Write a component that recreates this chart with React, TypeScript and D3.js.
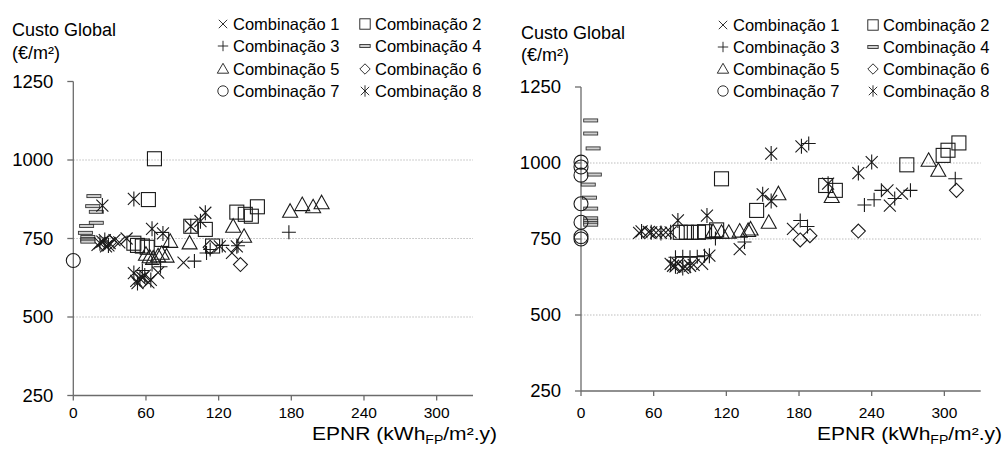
import React from "react";
import * as d3 from "d3";

type Pt = [number, number];

// ---------- Tick labels ----------
const xTicks = [0, 60, 120, 180, 240, 300];
const yTicks = [250, 500, 750, 1000, 1250];
const gridValues = [500, 750, 1000];
const seriesNames = [
  "Combinação 1", "Combinação 2", "Combinação 3", "Combinação 4",
  "Combinação 5", "Combinação 6", "Combinação 7", "Combinação 8",
];

// ---------- Left chart data (EPNR, Custo Global) ----------
const leftC1: Pt[] = [[20,730],[24,740],[27,725],[30,735],[34,745],[38,738],[44,750],[52,615],[57,625],[62,610],[70,641],[91,673],[121,725],[131,704]];
const leftC2: Pt[] = [[67,1004],[62,874],[97,789],[109,779],[135,834],[142,827],[147,821],[152,851],[73,747],[50,735],[53,728],[57,726],[61,722],[115,726]];
const leftC3: Pt[] = [[57,648],[65,667],[72,660],[100,678],[110,704],[113,715],[123,728],[136,727],[178,770]];
const leftC4: Pt[] = [[17,885],[16,853],[19,835],[19,800],[11,790],[10,768],[12,755],[12,748],[12,744],[12,740]];
const leftC5: Pt[] = [[132,789],[141,757],[179,837],[189,858],[198,851],[205,864],[96,736],[80,741],[77,694],[60,700],[63,692],[66,688],[70,695],[73,703]];
const leftC6: Pt[] = [[138,667],[30,738],[113,722]];
const leftC7: Pt[] = [[0,680]];
const leftC8: Pt[] = [[24,855],[50,876],[65,781],[74,766],[97,789],[105,805],[109,832],[135,725],[22,735],[26,745],[29,728],[50,640],[55,622],[59,632],[64,618],[53,608]];

// ---------- Right chart data ----------
const rightC1: Pt[] = [[48,770],[56,773],[62,771],[70,772],[76,662],[80,668],[86,658],[93,665],[100,668],[131,717],[175,783],[255,860],[253,910],[265,899]];
const rightC2: Pt[] = [[82,772],[87,772],[91,772],[97,772],[102,774],[112,780],[116,948],[145,844],[202,926],[210,910],[269,994],[299,1025],[303,1042],[312,1066]];
const rightC3: Pt[] = [[78,690],[84,692],[90,690],[96,692],[102,695],[111,752],[135,740],[181,811],[187,791],[188,1064],[234,862],[242,879],[248,910],[259,883],[272,910],[309,948]];
const rightC4: Pt[] = [[8,1140],[8,1097],[10,1048],[11,962],[6,929],[7,886],[8,850],[8,818],[8,810],[8,803],[8,797]];
const rightC5: Pt[] = [[109,775],[116,772],[122,772],[131,776],[138,778],[140,783],[155,805],[163,899],[207,890],[287,1009],[295,976]];
const rightC6: Pt[] = [[181,747],[189,761],[229,776],[310,910]];
const rightC7: Pt[] = [[0,1003],[0,987],[0,960],[0,866],[0,805],[0,758],[0,750]];
const rightC8: Pt[] = [[50,775],[58,772],[66,770],[74,772],[80,811],[104,827],[74,668],[78,660],[84,655],[90,662],[106,695],[150,897],[157,875],[157,1031],[182,1055],[204,932],[229,967],[240,1003]];

const FONT = "'Liberation Sans', Arial, sans-serif";
const INK = "#1a1a1a";

type Kind = "x" | "square" | "plus" | "dash" | "triangle" | "diamond" | "circle" | "asterisk";
const kinds: Kind[] = ["x", "square", "plus", "dash", "triangle", "diamond", "circle", "asterisk"];

function Marker({ kind, s, sw = 1.1 }: { kind: Kind; s: number; sw?: number }) {
  switch (kind) {
    case "x":
      return <path d={`M${-s},${-s}L${s},${s}M${-s},${s}L${s},${-s}`} stroke={INK} strokeWidth={sw} fill="none" />;
    case "square":
      return <rect x={-s - 1} y={-s - 1} width={2 * s + 2} height={2 * s + 2} stroke={INK} strokeWidth={sw} fill="none" />;
    case "plus":
      return <path d={`M${-s - 1},0H${s + 1}M0,${-s - 1}V${s + 1}`} stroke={INK} strokeWidth={sw} fill="none" />;
    case "dash":
      return <rect x={-s - 1} y={-1.5} width={2 * s + 2} height={3} stroke="#333" strokeWidth={0.9} fill="#cfcfcf" />;
    case "triangle":
      return <path d={`M0,${-s - 1.5}L${s + 1.5},${s}L${-s - 1.5},${s}Z`} stroke={INK} strokeWidth={sw} fill="none" />;
    case "diamond":
      return <path d={`M0,${-s - 1}L${s + 1},0L0,${s + 1}L${-s - 1},0Z`} stroke={INK} strokeWidth={sw} fill="none" />;
    case "circle":
      return <circle r={s + 1} stroke={INK} strokeWidth={sw} fill="none" />;
    case "asterisk":
      return <path d={`M${-s},${-s}L${s},${s}M${-s},${s}L${s},${-s}M0,${-s - 1.5}V${s + 1.5}`} stroke={INK} strokeWidth={sw} fill="none" />;
  }
}

interface ChartProps {
  series: Pt[][];
  xRange: [number, number];
  yRange: [number, number];
  titleX: number;
  titleY: [number, number];
  xTitleLeft: number;
  legendCols: [number, number];
  legendRows: number[];
}

function Chart(p: ChartProps) {
  const x = d3.scaleLinear().domain([0, 330]).range(p.xRange);
  const y = d3.scaleLinear().domain([250, 1250]).range(p.yRange);
  const x0 = x(0);
  const axisColor = "#6b6b6b";
  return (
    <g fontFamily={FONT} fill="#000">
      {gridValues.map((v) => (
        <line key={v} x1={x0} x2={x(330)} y1={y(v)} y2={y(v)} stroke="#bdbdbd" strokeWidth={1} strokeDasharray="1.5,1.5" />
      ))}
      <line x1={x0} x2={x0} y1={y(250)} y2={y(1250)} stroke={axisColor} strokeWidth={1.3} />
      {yTicks.map((v) => (
        <g key={v}>
          <line x1={x0 - 6} x2={x0} y1={y(v)} y2={y(v)} stroke={axisColor} strokeWidth={1.3} />
          <text x={x0 - 20} y={y(v)} dy="0.35em" textAnchor="end" fontSize={18.5}>{v}</text>
        </g>
      ))}
      <line x1={x0} x2={x(330)} y1={y(250)} y2={y(250)} stroke={axisColor} strokeWidth={1.3} />
      {xTicks.map((v) => (
        <g key={v}>
          <line x1={x(v)} x2={x(v)} y1={y(250)} y2={y(250) + 5} stroke={axisColor} strokeWidth={1.3} />
          <text x={x(v)} y={418} textAnchor="middle" fontSize={15.5}>{v}</text>
        </g>
      ))}
      <text x={p.titleX} y={p.titleY[0]} fontSize={18}>Custo Global</text>
      <text x={p.titleX} y={p.titleY[1]} fontSize={18}>(€/m²)</text>
      <text x={p.xTitleLeft} y={440} fontSize={18} textLength={185} lengthAdjust="spacingAndGlyphs">
        EPNR (kWh<tspan fontSize={12} dy={4}>FP</tspan><tspan dy={-4}>/m².y)</tspan>
      </text>
      {p.series.map((pts, si) => (
        <g key={si}>
          {pts.map((d, i) => (
            <g key={i} transform={`translate(${x(d[0])},${y(d[1])})`}>
              <Marker kind={kinds[si]} s={6} />
            </g>
          ))}
        </g>
      ))}
      {seriesNames.map((name, i) => {
        const col = i % 2;
        const row = Math.floor(i / 2);
        const lx = p.legendCols[col];
        const ly = p.legendRows[row];
        return (
          <g key={name}>
            <g transform={`translate(${lx - 10},${ly - 6})`}>
              <Marker kind={kinds[i]} s={4.2} sw={0.9} />
            </g>
            <text x={lx} y={ly} fontSize={16.5}>{name}</text>
          </g>
        );
      })}
    </g>
  );
}

export default function App() {
  return (
    <svg width={1006} height={455} style={{ position: "absolute", left: 0, top: 0, background: "#fff" }}>
      <rect width={1006} height={455} fill="#fff" />
      <Chart
        series={[leftC1, leftC2, leftC3, leftC4, leftC5, leftC6, leftC7, leftC8]}
        xRange={[73.3, 473]}
        yRange={[395.5, 81.5]}
        titleX={12}
        titleY={[36, 59]}
        xTitleLeft={312}
        legendCols={[233, 375]}
        legendRows={[30, 52, 75, 97]}
      />
      <Chart
        series={[rightC1, rightC2, rightC3, rightC4, rightC5, rightC6, rightC7, rightC8]}
        xRange={[581, 980.7]}
        yRange={[391, 87]}
        titleX={521}
        titleY={[39, 61]}
        xTitleLeft={817}
        legendCols={[733, 883]}
        legendRows={[31, 53, 75, 97]}
      />
    </svg>
  );
}
